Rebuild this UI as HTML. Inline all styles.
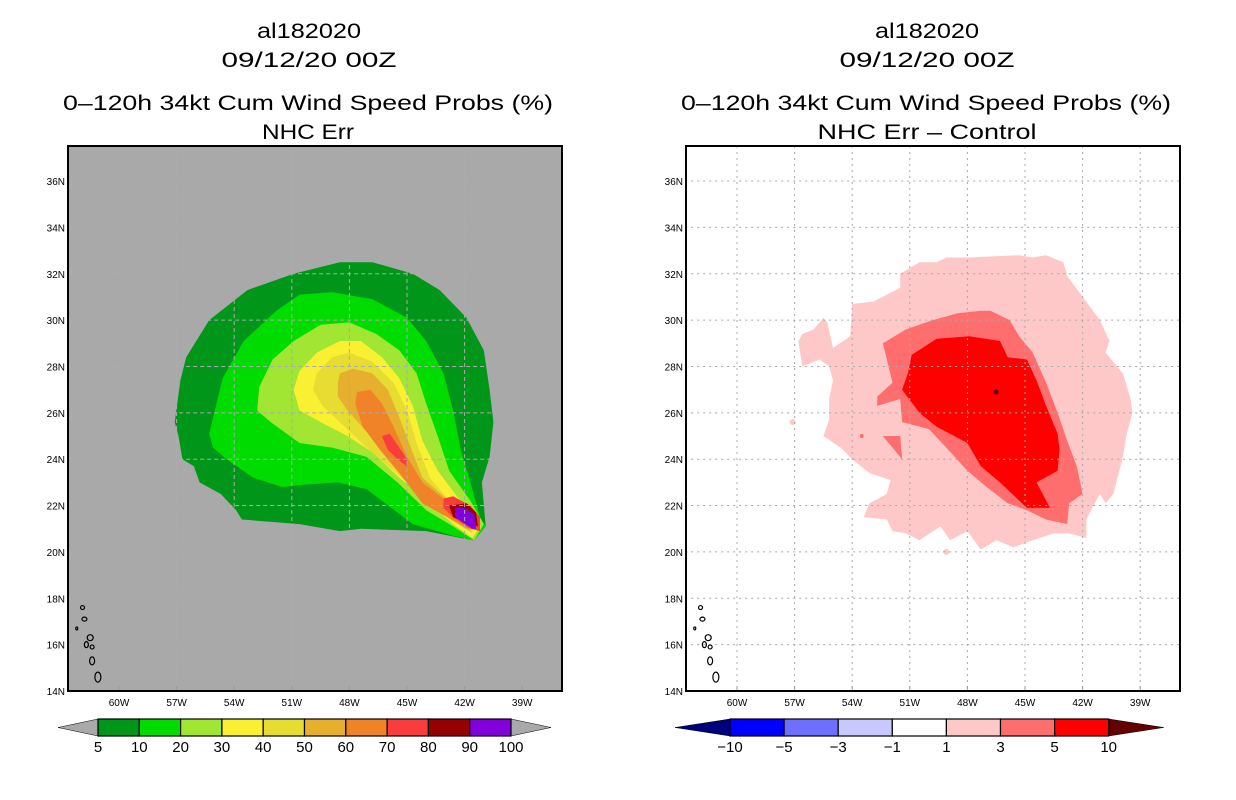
<!DOCTYPE html>
<html><head><meta charset="utf-8"><style>
html,body{margin:0;padding:0;background:#fff;}
svg{display:block;font-family:"Liberation Sans",sans-serif;}
</style></head><body>
<svg id="chart" width="1236" height="800" viewBox="0 0 1236 800" xmlns="http://www.w3.org/2000/svg">
<defs>
<clipPath id="clipL"><rect x="68" y="146" width="494" height="545"/></clipPath>
<clipPath id="clipR"><rect x="686" y="146" width="494" height="545"/></clipPath>
</defs>
<g font-size="21" fill="#000" text-anchor="middle">
<text x="309" y="38" textLength="104" lengthAdjust="spacingAndGlyphs">al182020</text>
<text x="309" y="67" textLength="175" lengthAdjust="spacingAndGlyphs">09/12/20 00Z</text>
<text x="308" y="110" textLength="490" lengthAdjust="spacingAndGlyphs">0–120h 34kt Cum Wind Speed Probs (%)</text>
<text x="308" y="139" textLength="92" lengthAdjust="spacingAndGlyphs">NHC Err</text>
</g>
<g font-size="21" fill="#000" text-anchor="middle">
<text x="927" y="38" textLength="104" lengthAdjust="spacingAndGlyphs">al182020</text>
<text x="927" y="67" textLength="175" lengthAdjust="spacingAndGlyphs">09/12/20 00Z</text>
<text x="926" y="110" textLength="490" lengthAdjust="spacingAndGlyphs">0–120h 34kt Cum Wind Speed Probs (%)</text>
<text x="927" y="139" textLength="219" lengthAdjust="spacingAndGlyphs">NHC Err – Control</text>
</g>
<rect x="68" y="146" width="494" height="545" fill="#a9a9a9"/>
<rect x="686" y="146" width="494" height="545" fill="#fff"/>
<g id="L" clip-path="url(#clipL)"></g>
<g id="R" clip-path="url(#clipR)"></g>
<g id="axes"></g>
<rect x="68" y="146" width="494" height="545" fill="none" stroke="#000" stroke-width="2"/>
<rect x="686" y="146" width="494" height="545" fill="none" stroke="#000" stroke-width="2"/>
<g id="cbars"></g>
</svg>
<script>
const lonTicks=[60,57,54,51,48,45,42,39];
const latTicks=[14,16,18,20,22,24,26,28,30,32,34,36];
const leftLevels=[5,10,20,30,40,50,60,70,80,90,100];
const leftColors=['#009619','#00dc00','#a0e632','#faf032','#e6dc32','#e6af2d','#f08228','#fa3c3c','#960000','#8200dc'];
const rightLevels=[-10,-5,-3,-1,1,3,5,10];
const rightColors=['#0000ff','#6e6eff','#c8c8ff','#ffffff','#ffc8c8','#ff6e6e','#ff0000'];
const c5=[[57.1,25.6],[56.8,27.4],[56.5,28.4],[55.3,30.0],[53.3,31.3],[50.9,32.0],[48.5,32.5],[46.8,32.5],[44.7,32.0],[43.3,31.3],[41.9,30.1],[41.0,28.7],[40.7,27.0],[40.5,25.6],[40.7,24.1],[41.1,23.0],[40.9,21.1],[41.5,20.5],[42.2,20.6],[44.0,20.9],[47.4,21.0],[48.5,20.9],[50.6,21.2],[53.6,21.4],[53.9,21.8],[54.7,22.5],[55.8,23.0],[56.1,23.7],[56.7,24.0],[56.9,25.0]];
const c10=[[55.3,25.1],[54.6,27.5],[53.5,29.1],[51.8,30.4],[50.6,31.1],[48.9,31.2],[46.8,30.9],[45.0,30.1],[44.0,29.1],[43.1,27.7],[42.6,26.1],[42.2,24.4],[41.7,23.0],[41.2,21.5],[40.9,21.1],[41.5,20.5],[42.6,20.7],[44.7,21.2],[47.1,22.7],[48.6,23.0],[50.4,22.9],[51.5,22.8],[53.0,23.2],[54.4,24.0],[55.1,24.5]];
const c20=[[52.8,26.1],[52.7,27.1],[52.0,28.3],[50.9,29.1],[49.5,29.8],[48.0,29.9],[46.6,29.4],[45.4,28.7],[44.5,27.7],[44.0,26.4],[43.4,25.0],[42.8,23.5],[41.7,22.2],[41.0,21.2],[41.5,20.5],[42.6,21.1],[44.0,21.8],[45.5,23.0],[47.1,24.1],[48.9,24.5],[50.6,24.7],[52.1,25.6]];
const c30=[[50.9,27.0],[50.6,27.8],[49.7,28.6],[48.5,29.1],[47.4,29.1],[46.3,28.4],[45.4,27.5],[44.7,26.3],[44.2,24.8],[43.4,23.5],[42.4,22.4],[41.4,21.5],[41.2,21.1],[41.6,20.6],[42.6,21.2],[44.2,22.4],[45.4,23.2],[46.8,24.3],[48.1,25.0],[49.5,25.6],[50.6,26.1]];
const c40=[[49.9,27.0],[49.7,27.7],[48.9,28.4],[48.0,28.6],[46.8,28.2],[45.7,27.3],[45.0,26.1],[44.5,24.7],[43.8,23.2],[42.8,22.2],[41.6,21.5],[41.6,20.8],[42.8,21.4],[44.3,22.5],[45.7,23.5],[47.1,24.5],[48.5,25.6],[49.4,26.3]];
const c50=[[48.6,27.3],[48.5,27.7],[47.8,27.9],[46.8,27.7],[46.0,27.0],[45.4,25.8],[44.8,24.5],[44.2,23.2],[43.1,22.4],[41.9,21.8],[41.7,20.9],[42.9,21.5],[44.5,22.7],[45.7,23.8],[46.9,25.0],[48.1,26.1],[48.6,26.7]];
const c60=[[47.7,26.4],[47.6,26.9],[46.9,27.0],[46.3,26.4],[45.7,25.4],[45.0,24.1],[44.2,23.0],[43.1,22.3],[41.7,21.7],[41.8,21.0],[42.9,21.5],[44.2,22.1],[45.4,23.4],[46.4,24.4],[47.3,25.4]];
const c70a=[[46.3,25.0],[45.9,25.1],[45.4,24.5],[45.0,24.0],[45.0,23.7],[45.5,24.0],[46.0,24.4]];
const c70b=[[43.1,22.3],[42.6,22.4],[41.7,22.0],[41.2,21.5],[41.2,20.9],[41.7,21.0],[42.6,21.5],[43.1,21.9]];
const c80=[[42.8,22.0],[41.9,22.1],[41.4,21.7],[41.3,21.1],[41.7,21.2],[42.6,21.5]];
const c90=[[42.5,21.9],[42.0,21.9],[41.5,21.6],[41.4,21.0],[41.6,21.0],[42.5,21.5]];
const d1=[[56.8,29.1],[56.6,29.4],[56.0,29.6],[55.5,30.1],[55.3,29.9],[55.0,28.8],[54.1,29.3],[54.0,30.7],[52.9,30.8],[51.5,31.4],[51.5,32.0],[50.5,32.5],[49.6,32.5],[49.1,32.7],[48.0,32.7],[45.3,32.8],[44.6,32.7],[43.9,32.8],[43.0,32.5],[42.8,31.9],[42.0,31.0],[41.1,30.0],[40.6,29.1],[40.8,28.6],[39.9,27.7],[39.5,26.6],[39.4,26.0],[39.7,25.1],[39.9,24.1],[40.4,22.5],[40.8,22.1],[41.1,22.5],[41.5,21.9],[41.8,21.4],[41.8,20.6],[42.7,20.8],[43.5,20.8],[44.6,20.5],[45.6,20.2],[46.5,20.5],[47.3,20.1],[48.0,20.9],[48.9,20.5],[49.4,21.1],[50.5,20.5],[51.2,20.8],[51.9,20.9],[52.2,21.4],[53.4,21.5],[53.1,22.1],[52.2,22.5],[52.0,23.1],[53.1,23.4],[54.0,24.0],[54.6,24.5],[55.5,25.0],[55.2,25.7],[55.2,26.6],[55.0,27.4],[55.2,28.0],[55.7,28.3],[56.6,28.0]];
const d3=[[52.4,29.0],[51.2,29.6],[49.8,30.0],[48.5,30.3],[47.3,30.4],[46.8,30.4],[45.8,30.0],[45.3,29.3],[44.6,28.6],[43.9,27.3],[43.3,26.0],[42.8,24.8],[42.3,23.7],[42.0,22.5],[42.7,22.1],[42.8,21.2],[43.9,21.4],[44.9,21.8],[45.9,22.1],[47.0,22.8],[48.0,23.5],[49.1,24.5],[50.0,25.3],[51.4,25.6],[51.5,26.6],[52.7,26.3],[52.7,26.7],[51.9,27.3]];
const d3b=[[52.4,25.0],[51.5,25.0],[51.4,24.0]];
const d5=[[50.9,28.5],[49.6,29.2],[47.9,29.3],[46.3,29.1],[45.9,28.4],[44.9,28.3],[44.4,27.4],[43.9,26.3],[43.3,25.1],[43.2,24.4],[43.3,23.5],[44.4,23.0],[43.7,21.9],[44.9,21.9],[46.3,23.0],[47.3,23.7],[48.0,24.7],[49.6,25.4],[50.5,26.0],[51.4,27.0],[51.1,27.7]];
const dots1=[[57.1,25.6],[49.1,20.0]];
const dots3=[[53.5,25.0]];
const dots10=[[46.5,26.9]];
const islands=[[61.9,17.6,2,2],[61.8,17.1,2.5,2],[62.2,16.7,1,1.5],[61.5,16.3,3,3],[61.7,16.0,2,3],[61.4,15.9,2,2],[61.4,15.3,2.5,4],[61.1,14.6,3,5]];

const ys=lat=>691-(lat-14)*23.18;
const xL=lon=>119+(60-lon)*19.2;
const xR=lon=>737+(60-lon)*19.2;
const NS='http://www.w3.org/2000/svg';
function mk(tag,attrs,parent){const e=document.createElementNS(NS,tag);for(const k in attrs)e.setAttribute(k,attrs[k]);parent.appendChild(e);return e;}
function poly(g,pts,xf,fill,name){
  const e=mk('polygon',{points:pts.map(p=>xf(p[0]).toFixed(1)+','+ys(p[1]).toFixed(1)).join(' '),fill:fill},g);
  
  
}
const L=document.getElementById('L'),R=document.getElementById('R');
const leftPolys=[c5,c10,c20,c30,c40,c50,c60,c70a,c70b,c80,c90];
const leftIdx=[0,1,2,3,4,5,6,7,7,8,9];
leftPolys.forEach((p,i)=>poly(L,p,xL,leftColors[leftIdx[i]],'contour-'+leftLevels[leftIdx[i]]));
poly(R,d1,xR,rightColors[4],'contour-diff-1');
poly(R,d3,xR,rightColors[5],'contour-diff-3');
poly(R,d3b,xR,rightColors[5],'contour-diff-3-patch');
poly(R,d5,xR,rightColors[6],'contour-diff-5');
dots1.forEach(d=>{const e=mk('circle',{cx:xR(d[0]),cy:ys(d[1]),r:3,fill:rightColors[4]},R);});
dots3.forEach(d=>{const e=mk('circle',{cx:xR(d[0]),cy:ys(d[1]),r:2,fill:rightColors[5]},R);});
dots10.forEach(d=>{const e=mk('circle',{cx:xR(d[0]),cy:ys(d[1]),r:2.5,fill:'#640000'},R);});

[[L,xL,'#acacac','4,3'],[R,xR,'#a8a8a8','2,4']].forEach(([g,xf,col,dash])=>{
  lonTicks.forEach(lon=>{const e=mk('line',{x1:xf(lon),x2:xf(lon),y1:146,y2:691,stroke:col,'stroke-width':1,'stroke-dasharray':dash},g);});
  latTicks.forEach(lat=>{const e=mk('line',{x1:xf(62.7),x2:xf(36.6),y1:ys(lat),y2:ys(lat),stroke:col,'stroke-width':1,'stroke-dasharray':dash},g);});
  islands.forEach(d=>{const e=mk('ellipse',{cx:xf(d[0]),cy:ys(d[1]),rx:d[2],ry:d[3],fill:'none',stroke:'#000','stroke-width':1.2},g);});
});

const A=document.getElementById('axes');
[[68,xL],[686,xR]].forEach(([x0,xf])=>{
  lonTicks.forEach(lon=>{const t=mk('text',{x:xf(lon),y:706,'font-size':10,'text-anchor':'middle'},A);t.textContent=lon+'W';
    const k=mk('line',{x1:xf(lon),x2:xf(lon),y1:691,y2:686,stroke:'#999','stroke-width':1},A);});
  latTicks.forEach(lat=>{const t=mk('text',{x:x0-3,y:ys(lat)+4,'font-size':10,'text-anchor':'end'},A);t.textContent=lat+'N';});
});

const C=document.getElementById('cbars');
function cbar(x0,w,labels,colors,tipL,tipR,tipW,name){
  const y0=719,h=17;
  let e=mk('polygon',{points:`${x0},${y0} ${x0-tipW},${y0+h/2} ${x0},${y0+h}`,fill:tipL,stroke:'#000','stroke-width':0.5},C);
  const xe=x0+w*colors.length;
  e=mk('polygon',{points:`${xe},${y0} ${xe+tipW},${y0+h/2} ${xe},${y0+h}`,fill:tipR,stroke:'#000','stroke-width':0.5},C);
  colors.forEach((c,i)=>{const r=mk('rect',{x:x0+i*w,y:y0,width:w,height:h,fill:c,stroke:'#000','stroke-width':1.2},C);});
  labels.forEach((l,i)=>{const t=mk('text',{x:x0+i*w,y:752,'font-size':15,'text-anchor':'middle'},C);t.textContent=String(l).replace('-','−');});
}
cbar(98,41.3,leftLevels,leftColors,'#a9a9a9','#a9a9a9',40,'left-colorbar');
cbar(730,54.1,rightLevels,rightColors,'#00007d','#640000',55,'right-colorbar');
</script>
</body></html>
